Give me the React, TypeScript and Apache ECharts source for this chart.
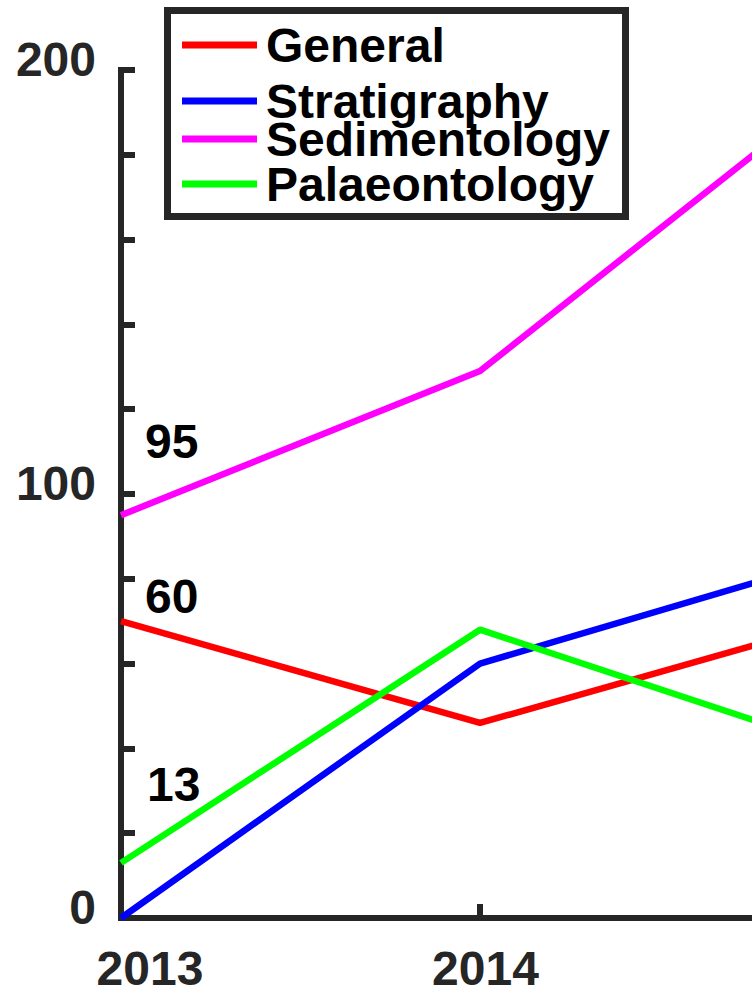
import React, { useEffect, useRef } from "react";
import * as echarts from "echarts";

const years = [2013, 2014, 2015];
const yearTicks = [2013, 2014];
const seriesNames = ["General", "Stratigraphy", "Sedimentology", "Palaeontology"];
const seriesColors = ["#ff0000", "#0000ff", "#ff00ff", "#00ff00"];
const general = [70, 46, 70];
const stratigraphy = [0, 60, 85];
const sedimentology = [95, 129, 196];
const palaeontology = [13, 68, 40];
const yTickLabels = [0, 100, 200];
const noteTexts = ["95", "60", "13"];

const FONT = '"Liberation Sans", Arial, Helvetica, sans-serif';
const AXIS = "#262626";

export default function App() {
  const ref = useRef<HTMLDivElement>(null);

  useEffect(() => {
    if (!ref.current) return;
    const chart = echarts.init(ref.current, undefined, { renderer: "svg" });

    const gridLeft = 121;
    const pxPerYear = 359;
    const xMax = 2013 + (752 - gridLeft) / pxPerYear;

    const values = [general, stratigraphy, sedimentology, palaeontology];
    const legendCenters = [45, 101, 139, 184];
    const notePos = [
      [145, 441],
      [145, 596],
      [147, 784],
    ];
    const baseText = { color: AXIS, fontFamily: FONT, fontWeight: "bold", fontSize: 48 };

    chart.setOption({
      animation: false,
      backgroundColor: "#ffffff",
      grid: { left: gridLeft, right: 0, top: 70, bottom: 72, containLabel: false },
      legend: seriesNames.map((n, i) => ({
        data: [n],
        left: 182,
        top: legendCenters[i] - 24,
        padding: 0,
        icon: "rect",
        itemWidth: 75,
        itemHeight: 7,
        itemGap: 0,
        selectedMode: false,
        textStyle: {
          fontFamily: FONT,
          fontWeight: "bold",
          fontSize: 48,
          lineHeight: 36,
          color: "#000000",
          padding: [0, 0, 0, 4],
        },
      })),
      xAxis: {
        type: "value",
        min: 2013,
        max: xMax,
        axisLine: { show: true, onZero: false, lineStyle: { color: AXIS, width: 6, cap: "square" } },
        axisTick: {
          show: true,
          inside: true,
          length: 14,
          customValues: yearTicks,
          lineStyle: { color: AXIS, width: 6 },
        },
        splitLine: { show: false },
        axisLabel: {
          customValues: yearTicks,
          margin: 31,
          ...baseText,
          lineHeight: 38,
          formatter: (v: number) => (v === 2013 ? "{a|" + v + "}" : "{b|" + v + "}"),
          rich: {
            a: { ...baseText, lineHeight: 38, padding: [0, 0, 0, 58] },
            b: { ...baseText, lineHeight: 38, padding: [0, 0, 0, 11] },
          },
        },
      },
      yAxis: {
        type: "value",
        min: 0,
        max: 200,
        interval: 20,
        axisLine: { show: true, onZero: false, lineStyle: { color: AXIS, width: 6, cap: "square" } },
        axisTick: { show: true, inside: true, length: 14, lineStyle: { color: AXIS, width: 6 } },
        splitLine: { show: false },
        axisLabel: {
          margin: 25,
          ...baseText,
          lineHeight: 40,
          formatter: (v: number) => (yTickLabels.indexOf(v) >= 0 ? "{a|" + v + "}" : ""),
          rich: {
            a: { ...baseText, lineHeight: 40, padding: [0, 0, 22, 0] },
          },
        },
      },
      series: seriesNames.map((n, i) => ({
        name: n,
        type: "line",
        data: years.map((y, j) => [y, values[i][j]]),
        showSymbol: false,
        symbol: "none",
        clip: true,
        color: seriesColors[i],
        lineStyle: { color: seriesColors[i], width: 6.5 },
        emphasis: { disabled: true },
        z: 2 + i,
      })),
      graphic: [
        {
          type: "rect",
          z: 10,
          shape: { x: 167.5, y: 10.5, width: 458, height: 206 },
          style: { fill: "none", stroke: AXIS, lineWidth: 7 },
        },
        ...noteTexts.map((t, i) => ({
          type: "text",
          z: 10,
          x: notePos[i][0],
          y: notePos[i][1],
          style: {
            text: t,
            fill: "#000000",
            font: 'bold 48px "Liberation Sans", Arial, sans-serif',
            align: "left",
            verticalAlign: "middle",
          },
        })),
      ],
    });

    return () => chart.dispose();
  }, []);

  return (
    <div
      ref={ref}
      style={{ position: "fixed", left: 0, top: 0, width: 752, height: 992, background: "#fff" }}
    />
  );
}
